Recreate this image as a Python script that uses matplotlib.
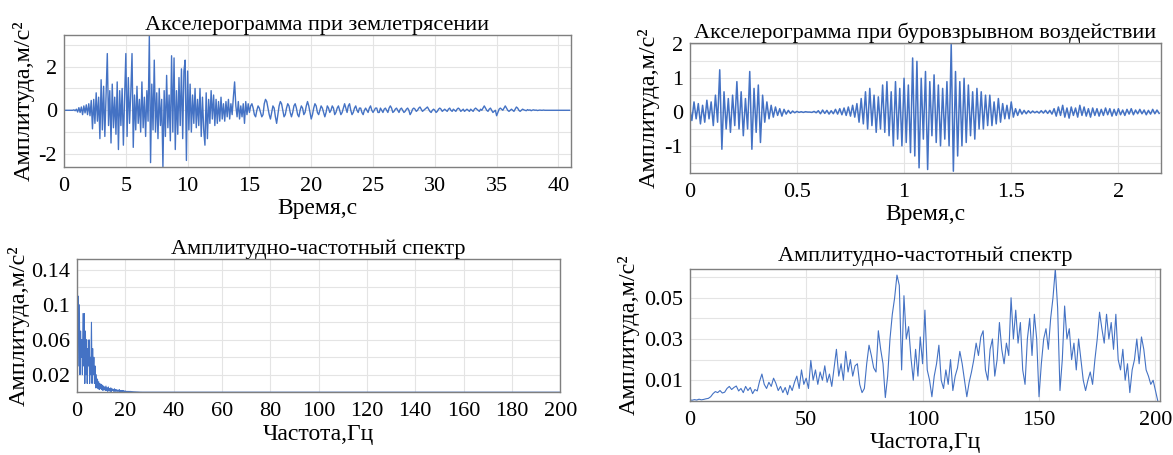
import numpy as np
import matplotlib
matplotlib.use("Agg")
import matplotlib.pyplot as plt
from matplotlib.ticker import MultipleLocator, FixedLocator

plt.rcParams['font.family'] = ['Liberation Serif', 'DejaVu Serif']
plt.rcParams['axes.unicode_minus'] = False

# ускорение при землетрясении, шаг 0.1 с
eq_dt = 0.1
eq_acc = [
    0, 0, 0, 0, 0, 0, 0, 0, 0.02, -0.02,
    0.05, -0.08, 0.12, -0.1, 0.15, -0.2, 0.2, -0.12, 0.25, -0.2,
    0.3, -0.25, 0.45, -0.85, 0.5, -0.6, 0.8, -0.5, 0.6, -1.3,
    1.4, -0.9, 1.1, -1.2, 0.7, 2.6, -0.7, 0.9, -1.5, 1.2,
    -0.8, 0.6, -1.1, 1.3, -1.8, 0.9, -0.7, 1.0, -1.6, 0.6,
    2.6, -1.2, 1.5, -0.6, 0.8, 2.6, -1.7, 0.7, -0.9, 1.1,
    -0.6, 0.5, -1.0, 1.3, -0.8, 0.6, -1.2, 0.9, -0.5, 3.4,
    -2.4, 1.2, -0.9, 2.3, -1.0, 0.8, -1.3, 1.0, -0.7, 0.5,
    -2.6, 0.9, -1.2, 1.6, -0.8, 0.7, -1.4, 2.5, -1.0, 2.4,
    -1.8, 0.9, -1.1, 1.5, -0.7, 1.9, -1.3, 1.8, 2.3, -2.3,
    1.8, -0.9, 1.2, -1.0, 0.7, -0.6, 1.0, -0.8, 0.5, -0.7,
    1.0, -1.2, 0.6, -0.9, -1.6, 0.8, -1.3, 0.5, -0.6, 0.9,
    -0.4, 0.7, -0.7, 0.5, -0.6, 0.4, -0.5, 0.6, -0.4, 0.3,
    -0.5, 0.4, -0.3, 0.5, -0.4, 0.3, -0.2, 0.6, 1.3, 0.2,
    -0.3, 0.4, -0.4, 0.2, -0.3, 0.3, -0.6, 0.4, -0.2, 0.3,
    -0.1, 0.2, 0.3, 0.1, -0.2, -0.3, 0.0, 0.2, 0.1, -0.1,
    -0.3, -0.2, 0.3, 0.5, 0.4, 0.1, -0.2, -0.4, -0.1, 0.2,
    0.1, -0.3, -0.6, -0.2, 0.2, 0.4, 0.3, 0.0, -0.3, -0.2,
    0.1, 0.3, 0.2, -0.1, -0.3, -0.1, 0.2, 0.3, 0.1, -0.2,
    -0.3, 0.0, 0.2, 0.1, -0.2, -0.1, 0.2, 0.4, 0.2, -0.1,
    -0.4, -0.2, 0.1, 0.3, 0.2, -0.1, -0.2, 0.0, 0.2, 0.1,
    -0.1, -0.3, -0.1, 0.2, 0.1, -0.1, 0.0, 0.2, 0.1, -0.2,
    -0.1, 0.1, 0.2, 0.0, -0.2, -0.1, 0.1, 0.3, 0.1, -0.1,
    0.2, 0.3, 0.0, -0.2, -0.1, 0.1, 0.2, 0.0, -0.1, 0.1,
    0.1, -0.1, -0.2, 0.0, 0.1, 0.0, -0.1, 0.1, 0.2, 0.0,
    -0.1, 0.0, 0.1, 0.1, -0.1, -0.1, 0.1, 0.0, -0.1, 0.05,
    0.1, 0.0, -0.1, 0.1, 0.2, 0.1, -0.1, -0.05, 0.05, 0.1,
    0.0, -0.1, 0.05, 0.1, 0.0, -0.1, -0.05, 0.05, 0.1, 0.0,
    -0.2, -0.1, 0.05, 0.1, 0.05, -0.05, 0.0, 0.1, 0.15, 0.05,
    -0.05, 0.0, 0.05, 0.1, 0.15, 0.05, -0.05, -0.1, 0.0, 0.05,
    0.0, -0.1, -0.05, 0.05, 0.1, 0.05, -0.05, 0.0, 0.05, 0.0,
    -0.05, 0.05, 0.1, 0.0, -0.05, 0.05, 0.0, -0.05, 0.05, 0.1,
    0.05, -0.05, 0.0, 0.05, -0.05, 0.0, 0.05, 0.0, -0.05, 0.05,
    0.0, -0.05, 0.05, 0.1, 0.05, 0.0, -0.05, 0.05, 0.0, 0.1,
    0.2, 0.1, 0.0, -0.05, 0.05, 0.1, 0.0, -0.1, -0.05, 0.0,
    -0.25, -0.1, 0.05, 0.1, 0.05, 0.0, 0.1, 0.2, 0.1, 0.0,
    -0.05, 0.0, 0.05, 0.0, -0.05, 0.05, 0.15, 0.1, 0.0, -0.05,
    0.0, 0.05, 0.02, 0.0, -0.02, 0.03, 0.0, 0.02, -0.02, 0.01,
    0.02, 0.0, 0.01, -0.01, 0.0, 0.01, 0.0, 0.0, 0.01, 0.0,
    0, 0, 0, 0, 0, 0, 0, 0, 0, 0,
    0, 0, 0, 0, 0, 0, 0, 0, 0, 0,
]

# ускорение при буровзрывном воздействии, шаг 0.01 с
bl_dt = 0.01
bl_acc = [
    0.1, -0.25, 0.3, -0.2, 0.25, -0.35, 0.2, -0.3, 0.35, -0.2,
    0.3, -0.4, 0.5, -0.3, 1.25, -1.1, 0.6, -0.5, 0.4, -0.6,
    0.5, -0.4, 0.9, -0.5, 0.6, -0.7, 0.4, -0.5, 1.2, -1.1,
    0.7, -0.6, 0.8, -0.9, 0.5, -0.3, 0.3, -0.2, 0.2, -0.15,
    0.15, -0.1, 0.1, -0.12, 0.08, -0.06, 0.05, -0.04, 0.03, -0.02,
    0.02, -0.01, 0.01, -0.01, 0.01, 0.0, 0.0, -0.01, 0.02, -0.02,
    0.04, -0.05, 0.06, -0.04, 0.05, -0.06, 0.04, -0.05, 0.08, -0.06,
    0.1, -0.08, 0.12, -0.1, 0.15, -0.12, 0.2, -0.15, 0.25, -0.3,
    0.4, -0.35, 0.6, -0.5, 0.7, -0.4, 0.5, -0.6, 0.45, -0.5,
    0.8, -0.6, 0.9, -0.7, 0.6, -1.0, 0.9, -0.8, 0.7, -1.0,
    1.0, -0.9, 0.8, -1.2, 1.6, -1.3, 1.5, -1.65, 1.0, -0.8,
    1.2, -1.7, 0.9, -0.7, 1.1, -0.9, 0.8, -1.0, 0.7, -0.8,
    0.9, -1.0, 2.0, -1.75, 1.2, -1.3, 0.9, -1.0, 1.0, -0.9,
    0.8, -0.7, 0.6, -0.8, 0.7, -0.5, 0.6, -0.5, 0.5, -0.4,
    0.5, -0.4, 0.3, -0.35, 0.4, -0.3, 0.25, -0.2, 0.2, -0.2,
    0.3, -0.15, 0.1, -0.1, 0.08, -0.06, 0.05, -0.05, 0.04, -0.03,
    0.03, -0.02, 0.02, -0.03, 0.04, -0.03, 0.05, -0.04, 0.05, -0.06,
    0.1, -0.12, 0.15, -0.1, 0.2, -0.15, 0.12, -0.18, 0.15, -0.1,
    0.12, -0.15, 0.2, -0.1, 0.15, -0.12, 0.1, -0.15, 0.12, -0.1,
    0.1, -0.12, 0.08, -0.1, 0.12, -0.08, 0.1, -0.12, 0.08, -0.1,
    0.1, -0.08, 0.06, -0.1, 0.08, -0.06, 0.1, -0.08, 0.06, -0.05,
    0.08, -0.05, 0.06, -0.08, 0.05, -0.06, 0.08, -0.05, 0.06, -0.04,
]

# спектр землетрясения, шаг 0.25 Гц до 30 Гц, дальше нули
eq_df = 0.25
eq_spec = [
    0.15, 0.06, 0.11, 0.03, 0.10, 0.02, 0.07, 0.04,
    0.06, 0.02, 0.09, 0.03, 0.09, 0.01, 0.07, 0.02,
    0.06, 0.01, 0.05, 0.03, 0.06, 0.01, 0.04, 0.02,
    0.08, 0.01, 0.05, 0.02, 0.04, 0.01, 0.03, 0.005,
    0.02, 0.005, 0.015, 0.004, 0.012, 0.003, 0.01, 0.004,
    0.009, 0.003, 0.008, 0.002, 0.007, 0.003, 0.006, 0.002,
    0.007, 0.002, 0.005, 0.001, 0.006, 0.002, 0.004, 0.001,
    0.005, 0.001, 0.004, 0.002, 0.003, 0.001, 0.004, 0.001,
    0.003, 0.001, 0.003, 0.001, 0.002, 0.001, 0.003, 0.0005,
    0.002, 0.001, 0.002, 0.0005, 0.002, 0.001, 0.0015, 0.0005,
    0.0015, 0.0005, 0.001, 0.0005, 0.001, 0.0005, 0.001, 0.0003,
    0.001, 0.0003, 0.0008, 0.0003, 0.0007, 0.0002, 0.0006, 0.0002,
    0.0005, 0.0002, 0.0004, 0.0001, 0.0003, 0.0001, 0.0002, 0.0001,
    0.0001, 0, 0.0001, 0, 0, 0, 0, 0,
    0, 0, 0, 0, 0, 0, 0, 0, 0,
]
eq_spec_end = 200

# спектр буровзрывного воздействия, шаг 1 Гц
bl_df = 1.0
bl_spec = [
    0.0005, 0.0003, 0.0006, 0.0004, 0.0008, 0.0005, 0.0007, 0.0010, 0.0012, 0.0020,
    0.0035, 0.0045, 0.0040, 0.0050, 0.0038, 0.0042, 0.0060, 0.0070, 0.0055, 0.0065,
    0.0072, 0.0048, 0.0060, 0.0040, 0.0070, 0.0050, 0.0065, 0.0035, 0.0055, 0.0048,
    0.0095, 0.0130, 0.0080, 0.0060, 0.0090, 0.0070, 0.0110, 0.0085, 0.0050, 0.0070,
    0.0040, 0.0065, 0.0030, 0.0075, 0.0050, 0.0090, 0.0120, 0.0060, 0.0150, 0.0080,
    0.0110, 0.0060, 0.0196, 0.0100, 0.0150, 0.0080, 0.0140, 0.0100, 0.0170, 0.0090,
    0.0130, 0.0070, 0.0160, 0.0250, 0.0120, 0.0180, 0.0100, 0.0240, 0.0140, 0.0200,
    0.0120, 0.0170, 0.0180, 0.0080, 0.0040, 0.0060, 0.0180, 0.0270, 0.0220, 0.0160,
    0.0140, 0.0340, 0.0250, 0.0180, 0.0016, 0.0120, 0.0300, 0.0420, 0.0500, 0.0610,
    0.0560, 0.0150, 0.0510, 0.0300, 0.0360, 0.0210, 0.0100, 0.0250, 0.0120, 0.0310,
    0.0180, 0.0440, 0.0150, 0.0100, 0.0020, 0.0120, 0.0180, 0.0270, 0.0100, 0.0060,
    0.0150, 0.0080, 0.0200, 0.0050, 0.0120, 0.0160, 0.0240, 0.0180, 0.0100, 0.0020,
    0.0090, 0.0140, 0.0200, 0.0280, 0.0220, 0.0310, 0.0340, 0.0150, 0.0100, 0.0250,
    0.0300, 0.0120, 0.0200, 0.0380, 0.0250, 0.0180, 0.0280, 0.0220, 0.0500, 0.0300,
    0.0440, 0.0280, 0.0380, 0.0150, 0.0080, 0.0300, 0.0400, 0.0220, 0.0420, 0.0300,
    0.0020, 0.0180, 0.0300, 0.0350, 0.0250, 0.0400, 0.0500, 0.0640, 0.0450, 0.0050,
    0.0200, 0.0460, 0.0300, 0.0350, 0.0200, 0.0280, 0.0150, 0.0300, 0.0200, 0.0100,
    0.0050, 0.0100, 0.0140, 0.0080, 0.0200, 0.0300, 0.0430, 0.0350, 0.0280, 0.0420,
    0.0300, 0.0380, 0.0250, 0.0420, 0.0200, 0.0150, 0.0250, 0.0100, 0.0180, 0.0040,
    0.0150, 0.0200, 0.0300, 0.0180, 0.0310, 0.0250, 0.0150, 0.0120, 0.0080, 0.0100,
    0.0050, 0.0000,
]

ylab = "Амплитуда,м/с²"
color = "#4472c4"

fig = plt.figure(figsize=(11.73, 4.55), dpi=100)


def style(ax):
    ax.grid(True, which="both", color="#e4e4e4", lw=0.8)
    ax.set_axisbelow(True)
    for s in ax.spines.values():
        s.set_color("#7f7f7f")
        s.set_linewidth(1.0)
    ax.tick_params(which="both", length=0, labelsize=16, pad=5)
    ax.tick_params(axis="x", pad=7)


# землетрясение: акселерограмма
ax1 = fig.add_axes([0.0546, 0.633, 0.432, 0.290])
t1 = np.arange(len(eq_acc)) * eq_dt
ax1.plot(t1, eq_acc, color=color, lw=1.0)
ax1.set_xlim(0, 41)
ax1.set_ylim(-2.6, 3.45)
ax1.xaxis.set_major_locator(MultipleLocator(5))
ax1.yaxis.set_major_locator(MultipleLocator(2))
ax1.yaxis.set_minor_locator(MultipleLocator(1))
ax1.set_title("Акселерограмма при землетрясении", fontsize=16, pad=3)
ax1.set_xlabel("Время,с", fontsize=17, labelpad=2)
ax1.set_ylabel(ylab, fontsize=17.5, labelpad=3)
style(ax1)

# буровзрывное воздействие: акселерограмма
ax2 = fig.add_axes([0.588, 0.620, 0.402, 0.286])
t2 = np.arange(len(bl_acc)) * bl_dt
ax2.plot(t2, bl_acc, color=color, lw=1.1)
ax2.set_xlim(0, 2.2)
ax2.set_ylim(-1.8, 2.05)
ax2.xaxis.set_major_locator(MultipleLocator(0.5))
ax2.xaxis.set_major_formatter(plt.FuncFormatter(lambda v, p: f"{v:g}"))
ax2.yaxis.set_major_locator(MultipleLocator(1))
ax2.yaxis.set_minor_locator(MultipleLocator(0.5))
ax2.set_title("Акселерограмма при буровзрывном воздействии", fontsize=16, pad=3)
ax2.set_xlabel("Время,с", fontsize=17, labelpad=2)
ax2.set_ylabel(ylab, fontsize=17.5, labelpad=3)
style(ax2)

# спектр землетрясения
ax3 = fig.add_axes([0.0656, 0.138, 0.412, 0.292])
f3 = np.append(np.arange(len(eq_spec)) * eq_df, eq_spec_end)
ax3.plot(f3, eq_spec + [0], color=color, lw=0.8)
ax3.set_xlim(0, 200)
ax3.set_ylim(0, 0.152)
ax3.xaxis.set_major_locator(MultipleLocator(20))
ax3.yaxis.set_major_locator(FixedLocator([0.02, 0.06, 0.1, 0.14]))
ax3.yaxis.set_minor_locator(MultipleLocator(0.02))
ax3.yaxis.set_major_formatter(plt.FuncFormatter(lambda v, p: f"{v:g}"))
ax3.set_title("Амплитудно-частотный спектр", fontsize=16, pad=4)
ax3.set_xlabel("Частота,Гц", fontsize=17, labelpad=2)
ax3.set_ylabel(ylab, fontsize=17.5, labelpad=1)
style(ax3)

# спектр буровзрывного воздействия
ax4 = fig.add_axes([0.588, 0.119, 0.401, 0.290])
f4 = np.arange(len(bl_spec)) * bl_df
ax4.plot(f4, bl_spec, color=color, lw=0.8)
ax4.set_xlim(0, 202)
ax4.set_ylim(0, 0.064)
ax4.xaxis.set_major_locator(MultipleLocator(50))
ax4.yaxis.set_major_locator(FixedLocator([0.01, 0.03, 0.05]))
ax4.yaxis.set_minor_locator(MultipleLocator(0.01))
ax4.yaxis.set_major_formatter(plt.FuncFormatter(lambda v, p: f"{v:g}"))
ax4.set_title("Амплитудно-частотный спектр", fontsize=16, pad=6)
ax4.set_xlabel("Частота,Гц", fontsize=17, labelpad=2)
ax4.set_ylabel(ylab, fontsize=17.5, labelpad=3)
style(ax4)

fig.savefig("out.png", dpi=100)
